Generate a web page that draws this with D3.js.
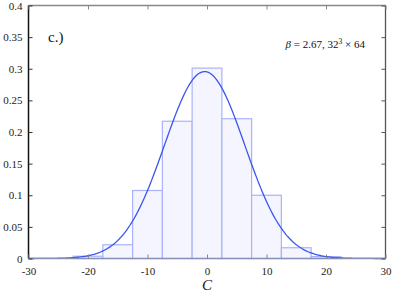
<!DOCTYPE html>
<html>
<head>
<meta charset="utf-8">
<script src="https://cdn.jsdelivr.net/npm/d3@7"></script>
<style>
  body { margin: 0; background: #fff; }
  svg { display: block; }
  text { font-family: "Liberation Serif", "DejaVu Serif", serif; }
</style>
</head>
<body>
<svg id="chart" width="407" height="293"></svg>
<script>
// histogram bins (centre, height)
var binCenters = [-20, -15, -10, -5, 0, 5, 10, 15, 20];
var binHeights = [0.0036, 0.0217, 0.1075, 0.217, 0.301, 0.221, 0.100, 0.017, 0.003];
var binWidth = 5;

// gaussian fit parameters
var fitMean = -0.4;
var fitSigma = 6.75;

var xTicks = [-30, -20, -10, 0, 10, 20, 30];
var yTicks = [0, 0.05, 0.1, 0.15, 0.2, 0.25, 0.3, 0.35, 0.4];

var svg = d3.select('#chart'),
    padL = 28.5, padR = 385.5, padT = 5.5, padB = 258.5;

var xScale = d3.scaleLinear().domain([-30, 30]).range([padL, padR]);
var yScale = d3.scaleLinear().domain([0, 0.4]).range([padB, padT]);

// bars
svg.selectAll('rect.bin')
    .data(binCenters)
    .enter()
    .append('rect')
    .attr('class', 'bin')
    .attr('x', function (d) { return xScale(d - binWidth / 2); })
    .attr('width', function () { return xScale(binWidth) - xScale(0); })
    .attr('y', function (d, i) { return yScale(binHeights[i]); })
    .attr('height', function (d, i) { return yScale(0) - yScale(binHeights[i]); })
    .attr('fill', '#f5f5ff')
    .attr('stroke', '#a9b3fb')
    .attr('stroke-width', 1.2);

// fit curve
var curveX = d3.range(-30, 30.01, 0.25);
var line = d3.line()
    .x(function (d) { return xScale(d); })
    .y(function (d) {
        var z = (d - fitMean) / fitSigma;
        return yScale(binWidth / (fitSigma * Math.sqrt(2 * Math.PI)) * Math.exp(-0.5 * z * z));
    });
svg.append('path')
    .datum(curveX)
    .attr('d', line)
    .attr('fill', 'none')
    .attr('stroke', '#3a55f0')
    .attr('stroke-width', 1.3);

// frame
svg.append('line').attr('x1', padL).attr('x2', padR).attr('y1', padT).attr('y2', padT)
    .attr('stroke', '#888').attr('stroke-width', 1.3);
svg.append('line').attr('x1', padR).attr('x2', padR).attr('y1', padT).attr('y2', padB)
    .attr('stroke', '#555').attr('stroke-width', 1.3);
svg.append('line').attr('x1', padL).attr('x2', padR).attr('y1', padB).attr('y2', padB)
    .attr('stroke', '#8890b8').attr('stroke-width', 1.6);
svg.append('line').attr('x1', padL).attr('x2', padL).attr('y1', padT).attr('y2', padB)
    .attr('stroke', '#111').attr('stroke-width', 1.5);

var fmt = function (d) { return String(+d.toFixed(2)); };

// ticks (inward, mirrored)
var yAxis = d3.axisLeft(yScale).tickValues(yTicks).tickSize(-4).tickPadding(6).tickFormat(fmt);
var yg = svg.append('g').attr('transform', 'translate(' + padL + ',0)').call(yAxis);
yg.select('.domain').remove();
yg.selectAll('text').attr('font-size', 11).attr('fill', '#222');
yg.selectAll('line').attr('stroke', '#333');

var yRight = d3.axisRight(yScale).tickValues(yTicks).tickSize(-4).tickFormat('');
var yr = svg.append('g').attr('transform', 'translate(' + padR + ',0)').call(yRight);
yr.select('.domain').remove();
yr.selectAll('line').attr('stroke', '#555');

var xAxis = d3.axisBottom(xScale).tickValues(xTicks).tickSize(-4).tickPadding(9).tickFormat(fmt);
var xg = svg.append('g').attr('transform', 'translate(0,' + padB + ')').call(xAxis);
xg.select('.domain').remove();
xg.selectAll('text').attr('font-size', 11).attr('fill', '#222');
xg.selectAll('line').attr('stroke', '#888');

var xTop = d3.axisTop(xScale).tickValues(xTicks).tickSize(-4).tickFormat('');
var xt = svg.append('g').attr('transform', 'translate(0,' + padT + ')').call(xTop);
xt.select('.domain').remove();
xt.selectAll('line').attr('stroke', '#888');

// labels
svg.append('text').attr('x', 48).attr('y', 42)
    .attr('font-size', 15).attr('fill', '#111').text('c.)');

var ann = svg.append('text').attr('x', 365).attr('y', 48)
    .attr('text-anchor', 'end').attr('font-size', 11).attr('fill', '#111');
ann.append('tspan').attr('font-style', 'italic').text('β');
ann.append('tspan').text(' = 2.67,  32');
ann.append('tspan').attr('font-size', 7.5).attr('dy', -4).text('3');
ann.append('tspan').attr('dy', 4).text(' × 64');

svg.append('text').attr('x', xScale(0)).attr('y', 290)
    .attr('text-anchor', 'middle').attr('font-size', 15).attr('font-style', 'italic')
    .attr('fill', '#111').text('C');
</script>
</body>
</html>
